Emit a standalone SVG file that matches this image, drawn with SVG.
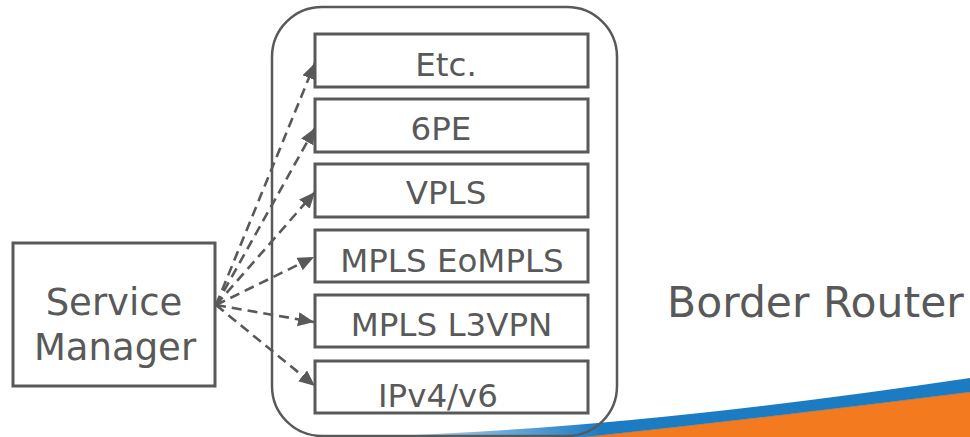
<svg xmlns="http://www.w3.org/2000/svg" width="970" height="437" viewBox="0 0 970 437">
  <style>
    .box { fill: none; stroke: #595959; stroke-width: 3; }
    .frame { fill: none; stroke: #595959; stroke-width: 2.5; }
    .lbl { font-family: "DejaVu Sans", Verdana, sans-serif; fill: #595959; }
    .svc { font-size: 32.5px; text-anchor: middle; }
    .link { fill: none; stroke: #595959; stroke-width: 2.6; stroke-dasharray: 10 6; }
  </style>
  <defs>
    <marker id="arrow" markerUnits="userSpaceOnUse" markerWidth="17" markerHeight="15" refX="16" refY="7" orient="auto">
      <path d="M0,0 L16,7 L0,14 Z" fill="#595959"/>
    </marker>
    <linearGradient id="blueFade" gradientUnits="userSpaceOnUse" x1="360" y1="0" x2="600" y2="0">
      <stop offset="0" stop-color="#e3eff8"/>
      <stop offset="1" stop-color="#1b7cc3"/>
    </linearGradient>
  </defs>

  <rect width="970" height="437" fill="#ffffff"/>

  <!-- swoosh along the bottom edge -->
  <g id="swoosh">
    <path d="M585,437 Q780,416 970,392 L970,437 Z" fill="#f47a20"/>
    <path d="M340,437 Q600,433 970,378 L970,392 Q780,416 585,437 Z" fill="url(#blueFade)"/>
    <path d="M585,437 Q780,416 970,392" fill="none" stroke="#6b6b6b" stroke-width="1" opacity="0.5"/>
  </g>

  <!-- router frame -->
  <g id="border-router">
    <rect class="frame" x="272" y="7" width="345" height="429" rx="50" ry="50"/>
    <text class="lbl" x="667" y="317" font-size="42.5">Border Router</text>
  </g>

  <g id="service-manager">
    <rect class="box" x="13" y="243" width="202" height="143"/>
    <text class="lbl" x="114" y="315" font-size="37" text-anchor="middle">Service</text>
    <text class="lbl" x="115" y="360" font-size="37" text-anchor="middle">Manager</text>
  </g>

  <g id="svc-etc">
    <rect class="box" x="315" y="34" width="273" height="53"/>
    <text class="lbl svc" x="446" y="76">Etc.</text>
  </g>
  <g id="svc-6pe">
    <rect class="box" x="315" y="99" width="273" height="53"/>
    <text class="lbl svc" x="441" y="140">6PE</text>
  </g>
  <g id="svc-vpls">
    <rect class="box" x="315" y="164" width="273" height="53"/>
    <text class="lbl svc" x="446" y="204">VPLS</text>
  </g>
  <g id="svc-eompls">
    <rect class="box" x="315" y="230" width="273" height="52"/>
    <text class="lbl svc" x="452" y="272">MPLS EoMPLS</text>
  </g>
  <g id="svc-l3vpn">
    <rect class="box" x="315" y="295" width="273" height="52"/>
    <text class="lbl svc" x="451.5" y="336">MPLS L3VPN</text>
  </g>
  <g id="svc-ipv4v6">
    <rect class="box" x="315" y="361" width="273" height="52"/>
    <text class="lbl svc" x="438" y="407">IPv4/v6</text>
  </g>

  <!-- dashed control links from the manager to each service -->
  <g id="connectors">
    <line class="link" x1="216" y1="305" x2="315" y2="63" marker-end="url(#arrow)"/>
    <line class="link" x1="216" y1="305" x2="315" y2="128" marker-end="url(#arrow)"/>
    <line class="link" x1="216" y1="305" x2="315" y2="192" marker-end="url(#arrow)"/>
    <line class="link" x1="216" y1="305" x2="314" y2="257" marker-end="url(#arrow)"/>
    <line class="link" x1="216" y1="305" x2="314" y2="322" marker-end="url(#arrow)"/>
    <line class="link" x1="216" y1="305" x2="315" y2="386" marker-end="url(#arrow)"/>
  </g>
</svg>
